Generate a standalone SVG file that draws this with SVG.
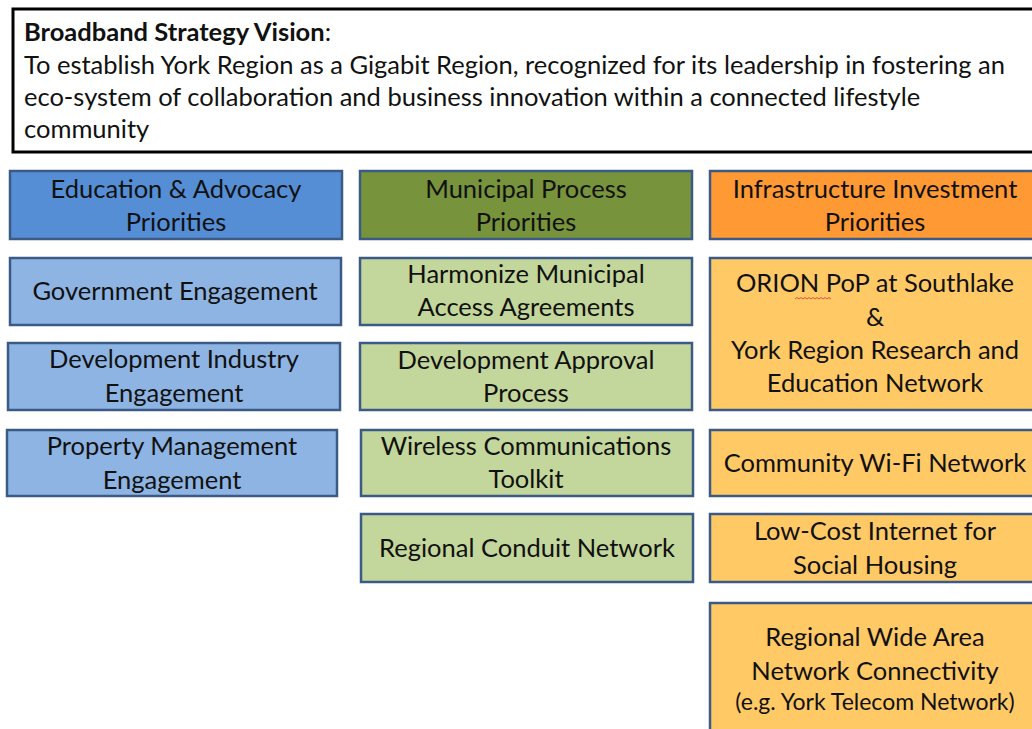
<svg xmlns="http://www.w3.org/2000/svg" width="1032" height="729" viewBox="0 0 1032 729">
<style>
text{font-family:Lato,"Liberation Sans",sans-serif;fill:#111;}
.v{font-size:25.5px;}
.t{font-size:25.5px;text-anchor:middle;}
.s{font-size:23px;text-anchor:middle;}
.b{stroke:#3B5B86;stroke-width:2.5;}
.hb{fill:#558ED5;}.lb{fill:#8EB4E3;}
.hg{fill:#77933C;}.lg{fill:#C3D69B;}
.ho{fill:#FF9933;}.lo{fill:#FFC966;}
</style>
<rect width="1032" height="729" fill="#fff"/>
<g id="vision">
<rect x="13" y="9" width="1030" height="143" fill="#fff" stroke="#000" stroke-width="3"/>
<text class="v" x="24" y="41"><tspan font-weight="bold">Broadband Strategy Vision</tspan>:</text>
<text class="v" x="24" y="74">To establish York Region as a Gigabit Region, recognized for its leadership in fostering an</text>
<text class="v" x="24" y="106">eco-system of collaboration and business innovation within a connected lifestyle</text>
<text class="v" x="24" y="138">community</text>
</g>
<g id="edu-header"><rect class="b hb" x="10" y="171" width="332" height="68"/><text class="t" x="176" y="198">Education &amp; Advocacy</text><text class="t" x="176" y="231">Priorities</text></g>
<g id="gov"><rect class="b lb" x="10" y="258" width="331" height="67"/><text class="t" x="175" y="300">Government Engagement</text></g>
<g id="devind"><rect class="b lb" x="8" y="343" width="332" height="67"/><text class="t" x="174" y="368">Development Industry</text><text class="t" x="174" y="402">Engagement</text></g>
<g id="prop"><rect class="b lb" x="7" y="430" width="330" height="66"/><text class="t" x="172" y="455">Property Management</text><text class="t" x="172" y="489">Engagement</text></g>
<g id="mun-header"><rect class="b hg" x="360" y="171" width="332" height="68"/><text class="t" x="526" y="198">Municipal Process</text><text class="t" x="526" y="231">Priorities</text></g>
<g id="harm"><rect class="b lg" x="360" y="258" width="332" height="67"/><text class="t" x="526" y="283">Harmonize Municipal</text><text class="t" x="526" y="316">Access Agreements</text></g>
<g id="devapp"><rect class="b lg" x="360" y="343" width="332" height="67"/><text class="t" x="526" y="369">Development Approval</text><text class="t" x="526" y="402">Process</text></g>
<g id="wireless"><rect class="b lg" x="361" y="430" width="332" height="66"/><text class="t" x="526" y="455">Wireless Communications</text><text class="t" x="526" y="488">Toolkit</text></g>
<g id="conduit"><rect class="b lg" x="361" y="514" width="332" height="68"/><text class="t" x="527" y="557">Regional Conduit Network</text></g>
<g id="inf-header"><rect class="b ho" x="710" y="171" width="330" height="68"/><text class="t" x="875" y="198">Infrastructure Investment</text><text class="t" x="875" y="231">Priorities</text></g>
<g id="orion"><rect class="b lo" x="710" y="258" width="330" height="152"/><text class="t" x="875" y="292">ORION PoP at Southlake</text><path d="M795 299 l2 -1.5 2 1.5 2 -1.5 2 1.5 2 -1.5 2 1.5 2 -1.5 2 1.5 2 -1.5 2 1.5 2 -1.5 2 1.5 2 -1.5 2 1.5 2 -1.5 2 1.5 2 -1.5 2 1.5" fill="none" stroke="#d33" stroke-width="0.8"/><text class="t" x="875" y="326">&amp;</text><text class="t" x="875" y="359">York Region Research and</text><text class="t" x="875" y="392">Education Network</text></g>
<g id="wifi"><rect class="b lo" x="710" y="430" width="330" height="66"/><text class="t" x="875" y="472">Community Wi-Fi Network</text></g>
<g id="lowcost"><rect class="b lo" x="710" y="514" width="330" height="68"/><text class="t" x="875" y="540">Low-Cost Internet for</text><text class="t" x="875" y="574">Social Housing</text></g>
<g id="wan"><rect class="b lo" x="710" y="603" width="330" height="140"/><text class="t" x="875" y="646">Regional Wide Area</text><text class="t" x="875" y="680">Network Connectivity</text><text class="s" x="875" y="710">(e.g. York Telecom Network)</text></g>
<g id="connectors"/>
</svg>
